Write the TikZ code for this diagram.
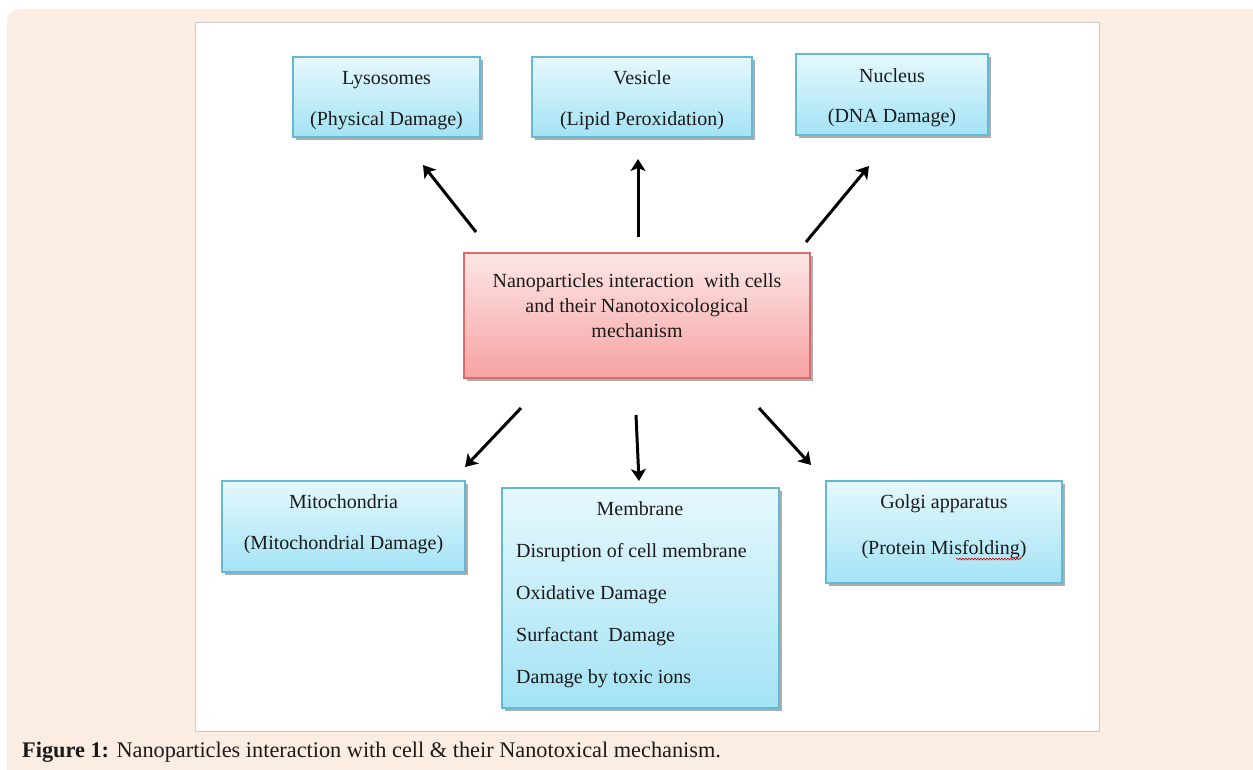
\documentclass[tikz,border=0pt]{standalone}
\usepackage{fontspec}
\setmainfont{Liberation Serif}
\usetikzlibrary{arrows.meta,shadows,decorations.pathmorphing}
\definecolor{peach}{HTML}{FCEDE3}
\definecolor{panelborder}{HTML}{CFC8C3}
\definecolor{cyantop}{HTML}{E6F8FD}
\definecolor{cyanbot}{HTML}{A3E3F5}
\definecolor{cyanborder}{HTML}{62B9D3}
\definecolor{pinktop}{HTML}{FDE6E6}
\definecolor{pinkbot}{HTML}{F7A2A2}
\definecolor{pinkborder}{HTML}{D56B6B}
\definecolor{txt}{HTML}{1A1A1A}
\tikzset{
  boxfont/.style={font=\fontsize{20}{24}\selectfont, text=txt},
  cbox/.style={draw=cyanborder, line width=1.2pt, top color=cyantop, bottom color=cyanbot,
    drop shadow={shadow xshift=2.5pt, shadow yshift=-2.5pt, fill=black!40, opacity=0.8},
    inner sep=0pt},
  pbox/.style={draw=pinkborder, line width=1.2pt, top color=pinktop, bottom color=pinkbot,
    drop shadow={shadow xshift=2.5pt, shadow yshift=-2.5pt, fill=black!40, opacity=0.8},
    inner sep=0pt},
  arr/.style={line width=3pt, black, -{Stealth[length=12pt,width=15pt,inset=3pt]}},
  ctext/.style={anchor=base, inner sep=0pt, boxfont},
  linetext/.style={anchor=base west, inner sep=0pt, boxfont}
}
\begin{document}
\begin{tikzpicture}[x=1pt,y=-1pt]
\useasboundingbox (0,0) rectangle (1253,769);
\begin{scope}
  \clip (0,0) rectangle (1253,769);
  \fill[peach, rounded corners=12pt] (7,9) rectangle (1300,820);
\end{scope}
\draw[panelborder, fill=white, line width=1pt] (195,22) rectangle (1099,731);

% boxes
\node[cbox, minimum width=187pt, minimum height=80pt] (lys) at (386.5,97) {};
\node[cbox, minimum width=220pt, minimum height=80pt] (ves) at (642,97) {};
\node[cbox, minimum width=192pt, minimum height=81pt] (nuc) at (892,94.5) {};
\node[pbox, minimum width=346pt, minimum height=125pt] (ctr) at (637,315.5) {};
\node[cbox, minimum width=243pt, minimum height=91pt] (mit) at (343.5,526.5) {};
\node[cbox, minimum width=277pt, minimum height=220pt] (mem) at (640.5,598) {};
\node[cbox, minimum width=236pt, minimum height=102pt] (gol) at (944,532) {};

% box texts
\node[ctext] (lysT1) at (386.5,84) {Lysosomes};
\node[ctext] (lysT2) at (386.5,125) {(Physical Damage)};
\node[ctext] (vesT1) at (642,84) {Vesicle};
\node[ctext] (vesT2) at (642,125) {(Lipid Peroxidation)};
\node[ctext] (nucT1) at (892,82) {Nucleus};
\node[ctext] (nucT2) at (892,122) {(DNA Damage)};
\node[ctext] (ctrT1) at (637,287) {Nanoparticles interaction~ with cells};
\node[ctext] (ctrT2) at (637,312) {and their Nanotoxicological};
\node[ctext] (ctrT3) at (637,337) {mechanism};
\node[ctext] (mitT1) at (343.5,508) {Mitochondria};
\node[ctext] (mitT2) at (343.5,549) {(Mitochondrial Damage)};

% membrane text
\node[ctext] (memT) at (640,515) {Membrane};
\node[linetext] (mem1) at (516,557) {Disruption of cell membrane};
\node[linetext] (mem2) at (516,599) {Oxidative Damage};
\node[linetext] (mem3) at (516,641) {Surfactant~ Damage};
\node[linetext] (mem4) at (516,683) {Damage by toxic ions};

% golgi text
\node[ctext] (golT1) at (944,508) {Golgi apparatus};
\node[ctext] (golT2) at (944,554) {(Protein Misfolding)};
\draw[red!85!black, line width=0.6pt, decorate, decoration={snake, amplitude=0.9pt, segment length=3pt}] (956,559) -- (1021,559);

% arrow end points
\coordinate (a1s) at (476,232); \coordinate (a1e) at (423,165);
\coordinate (a2s) at (638,237); \coordinate (a2e) at (638,159);
\coordinate (a3s) at (806,242); \coordinate (a3e) at (869,166);
\coordinate (a4s) at (521,408); \coordinate (a4e) at (465,467);
\coordinate (a5s) at (636,415); \coordinate (a5e) at (639,481);
\coordinate (a6s) at (759,408); \coordinate (a6e) at (811,465);
\draw[arr] (a1s) -- (a1e);
\draw[arr] (a2s) -- (a2e);
\draw[arr] (a3s) -- (a3e);
\draw[arr] (a4s) -- (a4e);
\draw[arr] (a5s) -- (a5e);
\draw[arr] (a6s) -- (a6e);

% caption
\node[anchor=base west, inner sep=0pt, font=\fontsize{22.3}{25}\selectfont, text=txt] (cap) at (22,757)
  {\textbf{Figure 1:} Nanoparticles interaction with cell \& their Nanotoxical mechanism.};
\end{tikzpicture}
\end{document}
